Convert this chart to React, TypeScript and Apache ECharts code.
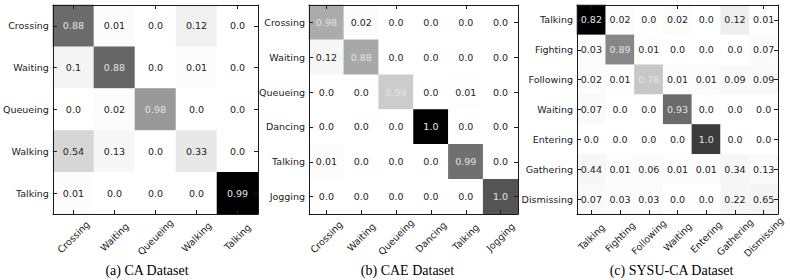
import React, { useEffect, useRef } from "react";
import * as echarts from "echarts";

const caLabels = ["Crossing", "Waiting", "Queueing", "Walking", "Talking"];
const caValues = [
  [0.88, 0.01, 0.0, 0.12, 0.0],
  [0.1, 0.88, 0.0, 0.01, 0.0],
  [0.0, 0.02, 0.98, 0.0, 0.0],
  [0.54, 0.13, 0.0, 0.33, 0.0],
  [0.01, 0.0, 0.0, 0.0, 0.99],
];
// grey intensity of each cell (0 = white, 1 = black)
const caShade = [
  [0.58, 0.01, 0, 0.06, 0],
  [0.045, 0.6, 0, 0.01, 0],
  [0, 0.01, 0.4, 0, 0],
  [0.16, 0.03, 0, 0.09, 0],
  [0.01, 0, 0, 0, 1.0],
];

const caeLabels = ["Crossing", "Waiting", "Queueing", "Dancing", "Talking", "Jogging"];
const caeValues = [
  [0.98, 0.02, 0.0, 0.0, 0.0, 0.0],
  [0.12, 0.88, 0.0, 0.0, 0.0, 0.0],
  [0.0, 0.0, 0.99, 0.0, 0.01, 0.0],
  [0.0, 0.0, 0.0, 1.0, 0.0, 0.0],
  [0.01, 0.0, 0.0, 0.0, 0.99, 0.0],
  [0.0, 0.0, 0.0, 0.0, 0.0, 1.0],
];
const caeShade = [
  [0.33, 0.01, 0, 0, 0, 0],
  [0.035, 0.34, 0, 0, 0, 0],
  [0, 0, 0.2, 0, 0.005, 0],
  [0, 0, 0, 1.0, 0, 0],
  [0.01, 0, 0, 0, 0.56, 0],
  [0, 0, 0, 0, 0, 0.67],
];

const sysuLabels = ["Talking", "Fighting", "Following", "Waiting", "Entering", "Gathering", "Dismissing"];
const sysuValues = [
  [0.82, 0.02, 0.0, 0.02, 0.0, 0.12, 0.01],
  [0.03, 0.89, 0.01, 0.0, 0.0, 0.0, 0.07],
  [0.02, 0.01, 0.78, 0.01, 0.01, 0.09, 0.09],
  [0.07, 0.0, 0.0, 0.93, 0.0, 0.0, 0.0],
  [0.0, 0.0, 0.0, 0.0, 1.0, 0.0, 0.0],
  [0.44, 0.01, 0.06, 0.01, 0.01, 0.34, 0.13],
  [0.07, 0.03, 0.03, 0.0, 0.0, 0.22, 0.65],
];
const sysuShade = [
  [1.0, 0.01, 0, 0.01, 0, 0.065, 0.005],
  [0.015, 0.47, 0.005, 0, 0, 0, 0.015],
  [0.01, 0.005, 0.22, 0.01, 0.01, 0.025, 0.025],
  [0.02, 0, 0, 0.58, 0, 0, 0],
  [0, 0, 0, 0, 0.77, 0, 0],
  [0.03, 0.01, 0.015, 0.01, 0.01, 0.03, 0.02],
  [0.02, 0.01, 0.01, 0, 0, 0.035, 0.045],
];

const captions = ["(a) CA Dataset", "(b) CAE Dataset", "(c) SYSU-CA Dataset"];

const panels = [
  { labels: caLabels, values: caValues, shade: caShade, left: 48, width: 210 },
  { labels: caeLabels, values: caeValues, shade: caeShade, left: 309, width: 209 },
  { labels: sysuLabels, values: sysuValues, shade: sysuShade, left: 577, width: 201 },
];

const fmt = (v: number) => (Number.isInteger(v) ? v.toFixed(1) : String(v));
const INK = "#1a1a1a";

export default function App() {
  const ref = useRef<HTMLDivElement>(null);
  useEffect(() => {
    if (!ref.current) return;
    const chart = echarts.init(ref.current, null, { renderer: "svg" });
    const grids: any[] = [];
    const xAxes: any[] = [];
    const yAxes: any[] = [];
    const series: any[] = [];
    const visualMaps: any[] = [];
    const graphics: any[] = [];
    panels.forEach((p, i) => {
      grids.push({ left: p.left, top: 5, width: p.width, height: 209 });
      const line = { show: true, lineStyle: { color: INK, width: 1 } };
      const tick = { show: true, inside: true, length: 4, alignWithLabel: true, lineStyle: { color: INK } };
      xAxes.push({
        type: "category", gridIndex: i, data: p.labels, position: "bottom", z: 10,
        axisLine: line, axisTick: tick, splitLine: { show: false },
        axisLabel: {
          rotate: 45, align: "center", verticalAlign: "middle", margin: 23, interval: 0,
          fontFamily: "DejaVu Sans", fontSize: 9.5, color: INK,
        },
      });
      xAxes.push({
        type: "category", gridIndex: i, data: p.labels, position: "top", z: 10,
        axisLine: line, axisTick: tick, axisLabel: { show: false }, splitLine: { show: false },
      });
      yAxes.push({
        type: "category", gridIndex: i, data: p.labels, inverse: true, position: "left", z: 10,
        axisLine: line, axisTick: tick, splitLine: { show: false },
        axisLabel: { margin: 4, interval: 0, fontFamily: "DejaVu Sans", fontSize: 9.5, color: INK },
      });
      yAxes.push({
        type: "category", gridIndex: i, data: p.labels, inverse: true, position: "right", z: 10,
        axisLine: line, axisTick: tick, axisLabel: { show: false }, splitLine: { show: false },
      });
      const data: any[] = [];
      p.values.forEach((row, r) =>
        row.forEach((v, c) => data.push([c, r, v, p.shade[r][c]]))
      );
      series.push({
        type: "heatmap", xAxisIndex: 2 * i, yAxisIndex: 2 * i, data,
        itemStyle: { borderWidth: 0 },
        label: {
          show: true,
          formatter: (d: any) => (d.value[3] > 0.18 ? "{l|" : "{d|") + fmt(d.value[2]) + "}",
          rich: {
            l: { color: "#e4e4e4", fontFamily: "DejaVu Sans", fontSize: 9.5 },
            d: { color: "#222", fontFamily: "DejaVu Sans", fontSize: 9.5 },
          },
        },
        emphasis: { disabled: true },
      });
      visualMaps.push({
        type: "continuous", show: false, seriesIndex: i, dimension: 3, min: 0, max: 1,
        inRange: { color: ["#ffffff", "#000000"] },
      });
      graphics.push({
        type: "text", x: p.left + p.width / 2 - 6, y: 270,
        style: {
          text: captions[i], fill: "#000", font: "14px 'Liberation Serif'",
          textAlign: "center", textVerticalAlign: "middle",
        },
      });
    });
    chart.setOption({
      animation: false,
      backgroundColor: "#ffffff",
      grid: grids,
      xAxis: xAxes,
      yAxis: yAxes,
      visualMap: visualMaps,
      series,
      graphic: graphics,
    });
    return () => chart.dispose();
  }, []);
  return (
    <div
      ref={ref}
      style={{ position: "fixed", left: 0, top: 0, width: 790, height: 280, background: "#fff" }}
    />
  );
}
